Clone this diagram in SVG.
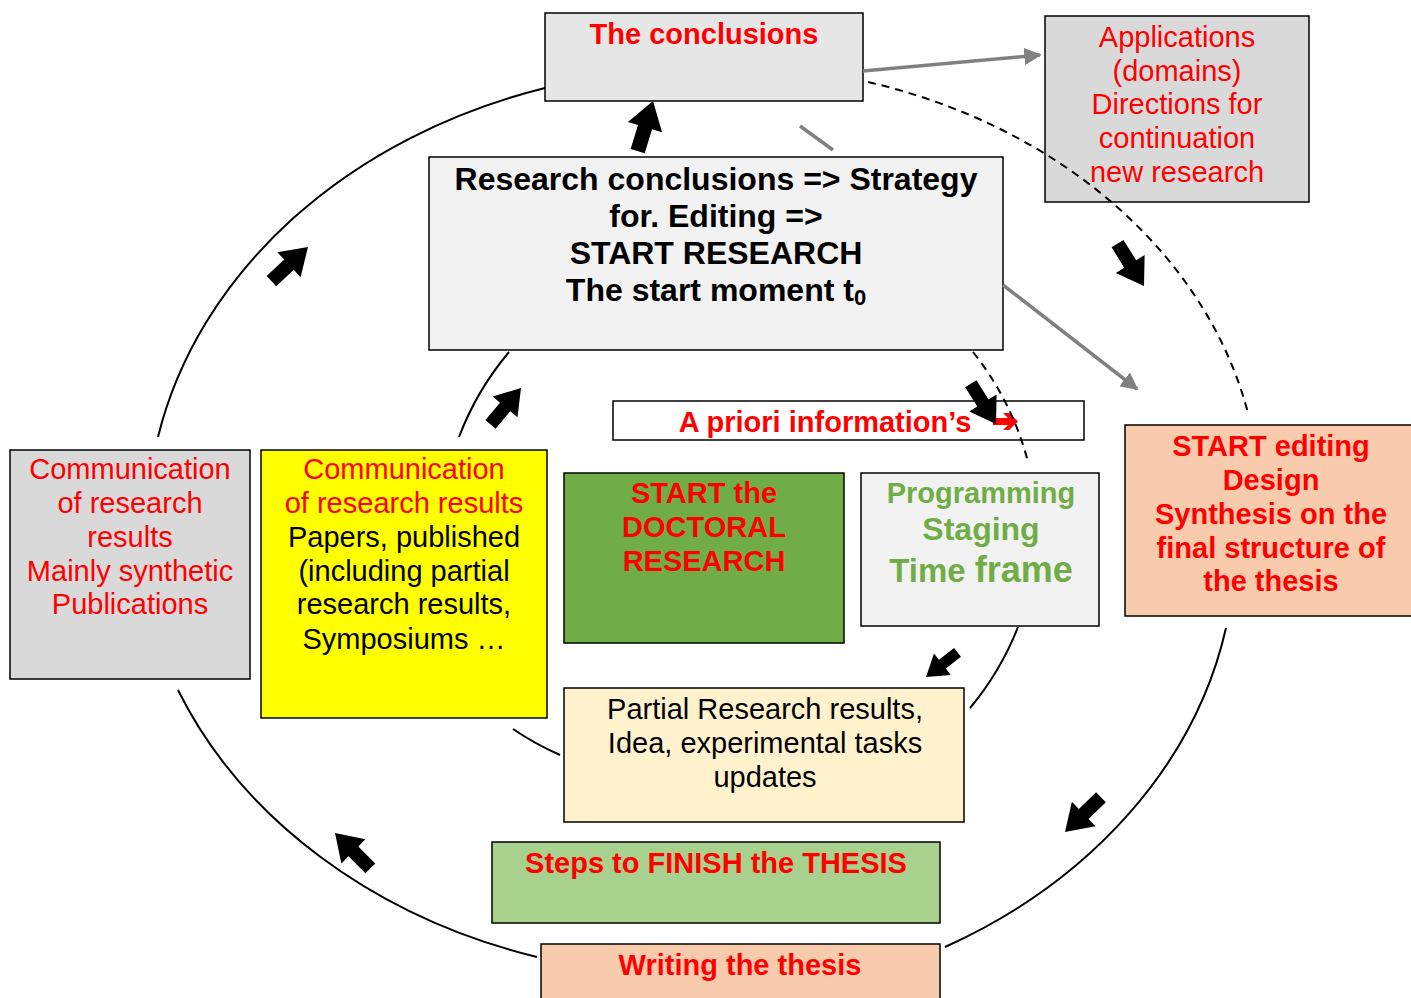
<svg xmlns="http://www.w3.org/2000/svg" xmlns:xlink="http://www.w3.org/1999/xlink" width="1411" height="998" viewBox="0 0 1411 998">
  <style>
    .box { stroke: #000; stroke-width: 1.5; }
    .t { font-family: "Liberation Sans", Arial, sans-serif; font-size: 29px; text-anchor: middle; }
    .b { font-weight: bold; }
    .big { font-size: 32px; }
    .red { fill: #ff0000; }
    .blk { fill: #000; }
    .grn { fill: #70ad47; }
    .curve { fill: none; stroke: #000; stroke-width: 2; }
    .dash { fill: none; stroke: #000; stroke-width: 2; stroke-dasharray: 8 6; }
    .gray { fill: none; stroke: #808080; stroke-width: 3.5; }
  </style>
  <defs>
    <!-- fat block arrow pointing along +x with its tip at the origin -->
    <path id="fat" d="M0,0 L-26,-17 L-26,-7 L-50,-7 L-50,7 L-26,7 L-26,17 Z" fill="#000"/>
    <marker id="grayHead" viewBox="0 0 10 10" refX="9" refY="5" markerWidth="5" markerHeight="5" markerUnits="strokeWidth" orient="auto">
      <path d="M0,0 L10,5 L0,10 Z" fill="#808080"/>
    </marker>
  </defs>

  <rect width="1411" height="998" fill="#fff"/>

  <!-- nodes -->
  <g id="conclusions">
    <rect class="box" x="545" y="13" width="318" height="88" fill="#e6e6e6"/>
    <text class="t b red" x="704" y="44">The conclusions</text>
  </g>

  <g id="applications">
    <rect class="box" x="1045" y="16" width="264" height="186" fill="#d9d9d9"/>
    <text class="t red" x="1177" y="47">Applications</text>
    <text class="t red" x="1177" y="81">(domains)</text>
    <text class="t red" x="1177" y="114">Directions for</text>
    <text class="t red" x="1177" y="148">continuation</text>
    <text class="t red" x="1177" y="182">new research</text>
  </g>

  <g id="research-start">
    <rect class="box" x="429" y="157" width="574" height="193" fill="#f2f2f2"/>
    <text class="t b big blk" x="716" y="190">Research conclusions =&gt; Strategy</text>
    <text class="t b big blk" x="716" y="227">for. Editing =&gt;</text>
    <text class="t b big blk" x="716" y="264">START RESEARCH</text>
    <text class="t b big blk" x="716" y="301">The start moment t<tspan style="font-size:22px" dy="4">0</tspan></text>
  </g>

  <g id="a-priori">
    <rect class="box" x="613" y="401" width="471" height="39" fill="#fff"/>
    <text class="t b red" x="825" y="432">A priori information’s</text>
    <path d="M993,418 L1008,418 L1003,413 L1009,413 L1018,421.5 L1009,430 L1003,430 L1008,425 L993,425 Z" fill="#ff0000"/>
  </g>

  <g id="communication-synthetic">
    <rect class="box" x="10" y="450" width="240" height="229" fill="#d9d9d9"/>
    <text class="t red" x="130" y="479">Communication</text>
    <text class="t red" x="130" y="513">of research</text>
    <text class="t red" x="130" y="547">results</text>
    <text class="t red" x="130" y="581">Mainly synthetic</text>
    <text class="t red" x="130" y="614">Publications</text>
  </g>

  <g id="communication-papers">
    <rect class="box" x="261" y="450" width="286" height="268" fill="#ffff00"/>
    <text class="t red" x="404" y="479">Communication</text>
    <text class="t red" x="404" y="513">of research results</text>
    <text class="t blk" x="404" y="547">Papers, published</text>
    <text class="t blk" x="404" y="581">(including partial</text>
    <text class="t blk" x="404" y="614">research results,</text>
    <text class="t blk" x="404" y="649">Symposiums …</text>
  </g>

  <g id="start-doctoral">
    <rect class="box" x="564" y="473" width="280" height="170" fill="#70ad47"/>
    <text class="t b red" x="704" y="503">START the</text>
    <text class="t b red" x="704" y="537">DOCTORAL</text>
    <text class="t b red" x="704" y="571">RESEARCH</text>
  </g>

  <g id="programming">
    <rect class="box" x="861" y="473" width="238" height="153" fill="#f2f2f2"/>
    <text class="t b grn" x="981" y="503">Programming</text>
    <text class="t b big grn" x="981" y="540">Staging</text>
    <text class="t b grn" x="981" y="582" style="font-size:33px">Time <tspan style="font-size:36px">frame</tspan></text>
  </g>

  <g id="start-editing">
    <rect class="box" x="1125" y="425" width="290" height="191" fill="#f8cbad"/>
    <text class="t b red" x="1271" y="456">START editing</text>
    <text class="t b red" x="1271" y="490">Design</text>
    <text class="t b red" x="1271" y="524">Synthesis on the</text>
    <text class="t b red" x="1271" y="558">final structure of</text>
    <text class="t b red" x="1271" y="591">the thesis</text>
  </g>

  <g id="partial-results">
    <rect class="box" x="564" y="688" width="400" height="134" fill="#fff2cc"/>
    <text class="t blk" x="765" y="719">Partial Research results,</text>
    <text class="t blk" x="765" y="753">Idea, experimental tasks</text>
    <text class="t blk" x="765" y="787">updates</text>
  </g>

  <g id="finish-steps">
    <rect class="box" x="492" y="842" width="448" height="81" fill="#a9d18e"/>
    <text class="t b red" x="716" y="873">Steps to FINISH the THESIS</text>
  </g>

  <g id="writing">
    <rect class="box" x="541" y="944" width="399" height="60" fill="#f8cbad"/>
    <text class="t b red" x="740" y="975">Writing the thesis</text>
  </g>

  <!-- connectors -->
  <g id="connectors">
    <!-- outer cycle -->
    <path class="curve" d="M545,88 A560,460 0 0 0 158,437"/>
    <path class="curve" d="M178,690 A560,460 0 0 0 537,957"/>
    <path class="curve" d="M945,947 A560,460 0 0 0 1226,628"/>
    <path class="dash" d="M868,82 A540,440 0 0 1 1248,413"/>
    <!-- inner cycle -->
    <path class="curve" d="M509,352 A295,295 0 0 0 459,437"/>
    <path class="curve" d="M513,729 A295,295 0 0 0 560,755"/>
    <path class="curve" d="M970,708 A295,295 0 0 0 1018,627"/>
    <path class="dash" d="M973,352 A295,295 0 0 1 1028,462"/>
    <!-- gray links -->
    <line class="gray" x1="863" y1="71" x2="1040" y2="55" marker-end="url(#grayHead)"/>
    <line class="gray" x1="1003" y1="285" x2="1137" y2="389" marker-end="url(#grayHead)"/>
    <line class="gray" x1="800" y1="126" x2="833" y2="150"/>
    <!-- direction arrows -->
    <use xlink:href="#fat" transform="translate(653,101) rotate(-73) scale(1.05)"/>
    <use xlink:href="#fat" transform="translate(308,247) rotate(-43)"/>
    <use xlink:href="#fat" transform="translate(521,388) rotate(-50) scale(0.95)"/>
    <use xlink:href="#fat" transform="translate(335,833) rotate(-135)"/>
    <use xlink:href="#fat" transform="translate(1065,832) rotate(136)"/>
    <use xlink:href="#fat" transform="translate(926,677) rotate(142) scale(0.8)"/>
    <use xlink:href="#fat" transform="translate(1144,286) rotate(58)"/>
    <use xlink:href="#fat" transform="translate(996,424) rotate(58) scale(0.95)"/>
  </g>
</svg>
